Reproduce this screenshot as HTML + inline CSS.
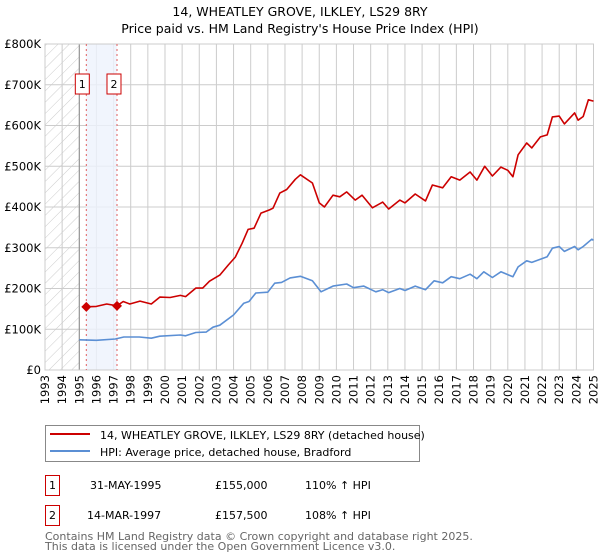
<!DOCTYPE html>
<html><head><meta charset="utf-8"><style>
body{margin:0;background:#fff;font-family:"DejaVu Sans","Liberation Sans",sans-serif;}
#wrap{position:relative;width:600px;height:560px;overflow:hidden}
</style></head><body>
<div id="wrap">
<svg id="svg" width="600" height="560" xmlns="http://www.w3.org/2000/svg">
<defs><pattern id="hatch" patternUnits="userSpaceOnUse" width="8" height="8" patternTransform="rotate(45)"><line x1="0" y1="0" x2="0" y2="8" stroke="#ccc" stroke-width="1"/></pattern></defs>
<text x="300" y="16" text-anchor="middle" font-size="12.5" fill="#000">14, WHEATLEY GROVE, ILKLEY, LS29 8RY</text>
<text x="300" y="33" text-anchor="middle" font-size="12.5" fill="#000">Price paid vs. HM Land Registry's House Price Index (HPI)</text>
<g id="plot"></g>
<rect x="45.5" y="425.5" width="374" height="36" fill="#fff" stroke="#888"/>
<line x1="50" y1="434" x2="90" y2="434" stroke="#cc0000" stroke-width="2"/>
<text x="100" y="439" font-size="11">14, WHEATLEY GROVE, ILKLEY, LS29 8RY (detached house)</text>
<line x1="50" y1="451" x2="90" y2="451" stroke="#5b8fd4" stroke-width="2"/>
<text x="100" y="456" font-size="11">HPI: Average price, detached house, Bradford</text>
<g>
<rect x="45.5" y="475.5" width="14" height="20" fill="none" stroke="#cc0000"/>
<text x="52.5" y="489" font-size="11" text-anchor="middle">1</text>
<text x="90" y="489" font-size="11">31-MAY-1995</text>
<text x="215" y="489" font-size="11">£155,000</text>
<text x="305" y="489" font-size="11">110% ↑ HPI</text></g>
<g>
<rect x="45.5" y="505.5" width="14" height="20" fill="none" stroke="#cc0000"/>
<text x="52.5" y="519" font-size="11" text-anchor="middle">2</text>
<text x="87" y="519" font-size="11">14-MAR-1997</text>
<text x="215" y="519" font-size="11">£157,500</text>
<text x="305" y="519" font-size="11">108% ↑ HPI</text></g>
<text x="45" y="540" font-size="11" fill="#666">Contains HM Land Registry data © Crown copyright and database right 2025.</text>
<text x="45" y="550" font-size="11" fill="#666">This data is licensed under the Open Government Licence v3.0.</text>
</svg></div>
<script>
const yearTicks=[1993,1994,1995,1996,1997,1998,1999,2000,2001,2002,2003,2004,2005,2006,2007,2008,2009,2010,2011,2012,2013,2014,2015,2016,2017,2018,2019,2020,2021,2022,2023,2024,2025];
const priceTicks=[0,100000,200000,300000,400000,500000,600000,700000,800000];
const priceTickLabels=["£0","£100K","£200K","£300K","£400K","£500K","£600K","£700K","£800K"];
const saleYears=[1995.41,1997.2];
const salePrices=[155000,157500];
const saleLabels=["1","2"];
const propYears=[1995.41,1996.0,1996.6,1997.2,1997.56,1997.95,1998.54,1999.2,1999.7,2000.3,2000.9,2001.2,2001.8,2002.2,2002.6,2003.2,2003.7,2004.1,2004.5,2004.85,2005.2,2005.6,2006.1,2006.3,2006.7,2007.1,2007.6,2007.9,2008.6,2009.0,2009.3,2009.8,2010.2,2010.6,2011.1,2011.5,2012.1,2012.7,2013.05,2013.7,2014.0,2014.6,2015.2,2015.6,2016.2,2016.7,2017.2,2017.8,2018.2,2018.65,2019.1,2019.6,2020.0,2020.3,2020.6,2021.1,2021.4,2021.9,2022.3,2022.6,2023.0,2023.3,2023.9,2024.1,2024.4,2024.7,2025.0];
const propValues=[155000,156000,162000,157500,168000,162000,169000,162000,179000,178000,183000,180000,201000,201000,218000,233000,258000,277000,311000,345000,348000,385000,393000,397000,434000,443000,468000,479000,459000,410000,400000,429000,425000,437000,417000,429000,398000,412000,395000,417000,410000,432000,415000,454000,447000,474000,466000,486000,466000,500000,476000,498000,490000,474000,528000,557000,545000,572000,577000,621000,623000,604000,631000,613000,622000,663000,660000];
const hpiYears=[1995.0,1996.0,1997.1,1997.6,1998.5,1999.2,1999.7,2000.9,2001.2,2001.8,2002.4,2002.8,2003.2,2004.0,2004.6,2004.9,2005.3,2006.0,2006.4,2006.8,2007.3,2007.9,2008.6,2009.1,2009.8,2010.6,2011.0,2011.6,2012.3,2012.7,2013.05,2013.7,2014.0,2014.6,2015.2,2015.7,2016.2,2016.7,2017.2,2017.8,2018.2,2018.6,2019.1,2019.6,2020.3,2020.6,2021.1,2021.4,2022.3,2022.6,2023.0,2023.3,2023.9,2024.1,2024.4,2024.9,2025.0];
const hpiValues=[74000,73000,76000,81000,81000,78000,83000,86000,84000,92000,93000,105000,110000,135000,164000,168000,189000,191000,213000,215000,226000,230000,219000,192000,206000,211000,202000,206000,192000,197000,190000,200000,195000,206000,197000,219000,214000,229000,224000,235000,224000,241000,227000,241000,229000,253000,268000,264000,278000,299000,303000,291000,303000,295000,303000,321000,318000];

const X0=45,X1=593.5,Y0=370,Y1=44;
const xs=y=>X0+(y-1993)/(2025-1993)*(X1-X0);
const ys=v=>Y0-v/800000*(Y0-Y1);
const NS="http://www.w3.org/2000/svg";
const plot=document.getElementById('plot');
function mk(tag,attrs,parent){const e=document.createElementNS(NS,tag);for(const k in attrs)e.setAttribute(k,attrs[k]);(parent||plot).appendChild(e);return e;}
// grid
yearTicks.forEach((y,i)=>{
 const g=mk('line',{x1:xs(y),x2:xs(y),y1:Y1,y2:Y0,stroke:'#ccc','stroke-width':1});
 
 
 const t=mk('text',{x:0,y:0,'font-size':11.5,'text-anchor':'end',transform:`translate(${xs(y)+4},${Y0+5}) rotate(-90)`});
 t.textContent=y;
 
 
});
priceTicks.forEach((v,i)=>{
 const g=mk('line',{x1:X0,x2:X1,y1:ys(v),y2:ys(v),stroke:'#ccc','stroke-width':1});
 
 
 const t=mk('text',{x:X0-4,y:ys(v)+4,'font-size':11.5,'text-anchor':'end'});
 t.textContent=priceTickLabels[i];
 
 
});
// hatch pre-1995
const h=mk('rect',{x:X0,y:Y1,width:xs(1995)-X0,height:Y0-Y1,fill:'url(#hatch)'});


const vl=mk('line',{x1:xs(1995),x2:xs(1995),y1:Y1,y2:Y0,stroke:'#888'});


const band=mk('rect',{x:xs(saleYears[0]),y:Y1,width:xs(saleYears[1])-xs(saleYears[0]),height:Y0-Y1,fill:'#eef3fc',opacity:0.8});


// frame
const fr=mk('rect',{x:X0,y:Y1,width:X1-X0,height:Y0-Y1,fill:'none',stroke:'#ccc'});


saleYears.forEach((y,i)=>{
 const l=mk('line',{x1:xs(y),x2:xs(y),y1:Y1,y2:Y0,stroke:'#e06060','stroke-dasharray':'2,3'});
 
 
});
function path(xa,va,color,name){
 const d=xa.map((y,i)=>(i?'L':'M')+xs(y).toFixed(1)+','+ys(va[i]).toFixed(1)).join('');
 const p=mk('path',{d:d,fill:'none',stroke:color,'stroke-width':1.6,'stroke-linejoin':'round'});
 
 
}
path(hpiYears,hpiValues,'#5b8fd4','hpi-line');
path(propYears,propValues,'#cc0000','property-line');
saleYears.forEach((y,i)=>{
 const c=mk('path',{d:`M${xs(y)-5},${ys(salePrices[i])}L${xs(y)},${ys(salePrices[i])-5}L${xs(y)+5},${ys(salePrices[i])}L${xs(y)},${ys(salePrices[i])+5}Z`,fill:'#cc0000'});
 
 
 const b=mk('rect',{x:xs(y)-(i?3:4)-7,y:74,width:14,height:20,fill:'#fff',stroke:'#cc0000'});
 
 
 const t=mk('text',{x:xs(y)-(i?3:4),y:88,'font-size':11,'text-anchor':'middle'});
 t.textContent=saleLabels[i];
 
 
});
</script>
</body></html>
